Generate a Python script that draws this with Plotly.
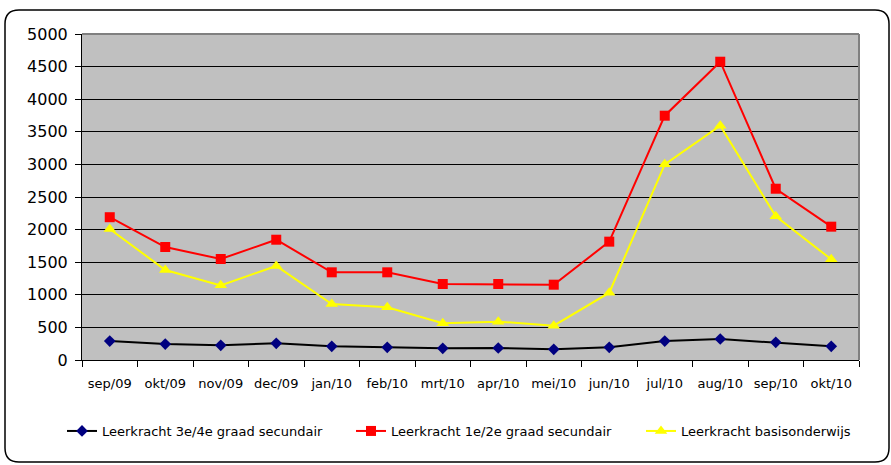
import plotly.graph_objects as go

months = ["sep/09", "okt/09", "nov/09", "dec/09", "jan/10", "feb/10", "mrt/10",
          "apr/10", "mei/10", "jun/10", "jul/10", "aug/10", "sep/10", "okt/10"]
graad34 = [291, 245, 225, 256, 210, 195, 179, 184, 164, 195, 291, 322, 271, 210]
graad12 = [2190, 1733, 1549, 1845, 1345, 1345, 1166, 1166, 1155, 1815, 3747, 4575, 2627, 2045]
basis = [2009, 1380, 1145, 1442, 859, 808, 563, 588, 526, 1032, 3001, 3594, 2204, 1544]

names = ["Leerkracht 3e/4e graad secundair", "Leerkracht 1e/2e graad secundair",
         "Leerkracht basisonderwijs"]
yticks = [0, 500, 1000, 1500, 2000, 2500, 3000, 3500, 4000, 4500, 5000]

W, H = 891, 465
L, R, T, B = 82, 32, 34, 105
PW, PH = W - L - R, H - T - B

def px(x):
    return (x - L) / PW

def py(y):
    return (H - B - y) / PH

fig = go.Figure()
fig.add_trace(go.Scatter(x=months, y=graad34, name=names[0], mode="lines+markers",
                         line=dict(color="#000000", width=2), legend="legend",
                         marker=dict(symbol="diamond", size=9, color="#000080")))
fig.add_trace(go.Scatter(x=months, y=graad12, name=names[1], mode="lines+markers",
                         line=dict(color="#FF0000", width=2), legend="legend2",
                         marker=dict(symbol="square", size=10, color="#FF0000")))
fig.add_trace(go.Scatter(x=months, y=basis, name=names[2], mode="lines+markers",
                         line=dict(color="#FFFF00", width=2), legend="legend3",
                         marker=dict(symbol="triangle-up", size=11, color="#FFFF00")))

# rounded outer border
x0, x1, y0, y1, r = px(5), px(889), py(10), py(462), 14
rx, ry = r / PW, r / PH
path = (f"M {x0+rx},{y0} L {x1-rx},{y0} Q {x1},{y0} {x1},{y0-ry} "
        f"L {x1},{y1+ry} Q {x1},{y1} {x1-rx},{y1} L {x0+rx},{y1} "
        f"Q {x0},{y1} {x0},{y1+ry} L {x0},{y0-ry} Q {x0},{y0} {x0+rx},{y0} Z")

def leg(xpix):
    return dict(orientation="h", xref="container", x=xpix / W, xanchor="left",
                yref="container", y=(H - 431) / H, yanchor="middle",
                font=dict(size=13), bgcolor="rgba(0,0,0,0)")

fig.update_layout(
    width=W, height=H,
    margin=dict(l=L, r=R, t=T, b=B),
    paper_bgcolor="white", plot_bgcolor="#C0C0C0",
    font=dict(family="DejaVu Sans, Arial, sans-serif", color="#000000"),
    showlegend=True,
    legend=leg(62), legend2=leg(351), legend3=leg(641),
    xaxis=dict(type="category", tickson="boundaries", ticks="outside", ticklen=6,
               tickcolor="#000000", showline=True, linecolor="#000000", linewidth=1,
               showgrid=False, tickfont=dict(size=13), ticklabelstandoff=11,
               range=[-0.5, len(months) - 0.5]),
    yaxis=dict(range=[0, 5000], tickvals=yticks, ticks="outside", ticklen=6,
               tickcolor="#000000", showline=True, linecolor="#000000", linewidth=1,
               showgrid=True, gridcolor="#000000", gridwidth=1, zeroline=False,
               tickfont=dict(size=16), ticklabelstandoff=4),
    shapes=[
        dict(type="path", xref="paper", yref="paper", path=path,
             line=dict(color="#000000", width=1.5), layer="below"),
        dict(type="line", xref="paper", yref="paper", x0=0, x1=1, y0=1, y1=1,
             line=dict(color="#808080", width=2), layer="above"),
        dict(type="line", xref="paper", yref="paper", x0=1, x1=1, y0=0, y1=1,
             line=dict(color="#808080", width=2), layer="above"),
    ],
)

fig.write_html("out.html", config={"displayModeBar": False},
               post_script="document.body.style.margin='0px';")
